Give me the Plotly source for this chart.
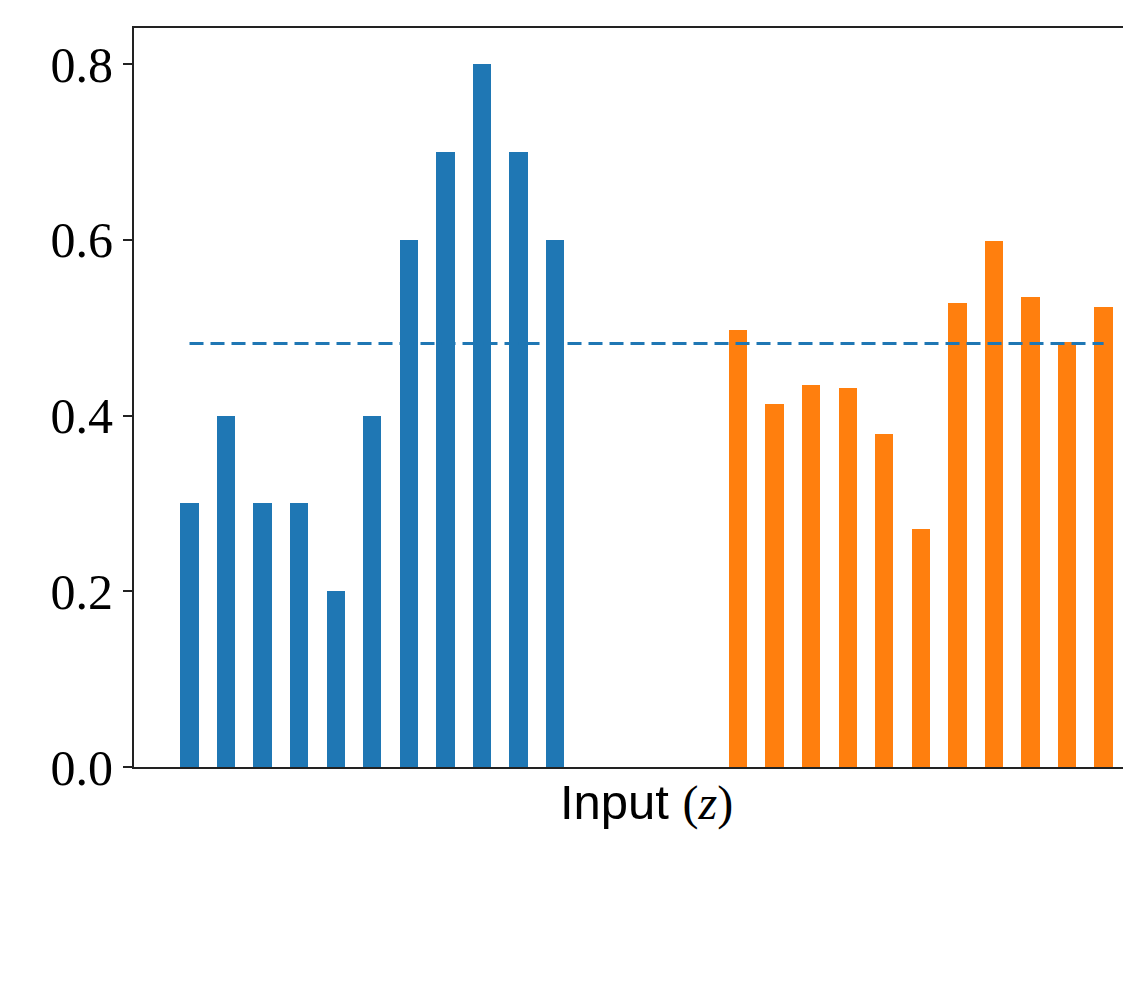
import plotly.graph_objects as go

# Data
blue_x = [0, 1, 2, 3, 4, 5, 6, 7, 8, 9, 10]
blue_values = [0.3, 0.4, 0.3, 0.3, 0.2, 0.4, 0.6, 0.7, 0.8, 0.7, 0.6]
orange_x = [15, 16, 17, 18, 19, 20, 21, 22, 23, 24, 25]
orange_values = [0.497, 0.413, 0.435, 0.431, 0.379, 0.271, 0.528, 0.599, 0.535, 0.484, 0.523]
mean_x = [0, 25]
mean_value = sum(blue_values) / len(blue_values)
y_ticks = [0.0, 0.2, 0.4, 0.6, 0.8]
y_tick_labels = ["0.0", "0.2", "0.4", "0.6", "0.8"]
x_label = "Input <span style='font-family:\"Liberation Serif\", serif; font-size:48px'>(<i>z</i>)</span>"

BLUE = "#1f77b4"
ORANGE = "#ff7f0e"

fig = go.Figure()
fig.add_trace(go.Bar(x=blue_x, y=blue_values, width=0.5, marker=dict(color=BLUE, line=dict(width=0)), showlegend=False))
fig.add_trace(go.Bar(x=orange_x, y=orange_values, width=0.5, marker=dict(color=ORANGE, line=dict(width=0)), showlegend=False))
fig.add_trace(go.Scatter(x=mean_x, y=[mean_value, mean_value], mode="lines",
                         line=dict(color=BLUE, width=3, dash="14px,7px"), showlegend=False))

fig.update_layout(
    width=1123, height=989,
    margin=dict(l=134, r=0, t=28, b=222),
    plot_bgcolor="white", paper_bgcolor="white",
    bargap=0,
)
# axis title placed as annotation (axes extend past the visible right edge)
fig.add_annotation(
    text=x_label, xref="paper", yref="paper",
    x=0.5177, y=-0.048, xanchor="center", yanchor="middle", showarrow=False,
    font=dict(family="Liberation Sans, Arial, sans-serif", size=49, color="black"),
)
fig.update_xaxes(
    range=[-1.518, 25.53],
    showgrid=False, zeroline=False,
    showline=True, linecolor="#222222", linewidth=2, mirror=True,
    ticks="", showticklabels=False,
)
fig.update_yaxes(
    range=[0, 0.841],
    showgrid=False, zeroline=False,
    showline=True, linecolor="#222222", linewidth=2,
    ticks="outside", ticklen=9, tickwidth=2, tickcolor="#222222",
    tickvals=y_ticks, ticktext=y_tick_labels,
    tickfont=dict(family="Liberation Serif, Times New Roman, serif", size=50, color="black"),
)

fig.write_html("out.html")
